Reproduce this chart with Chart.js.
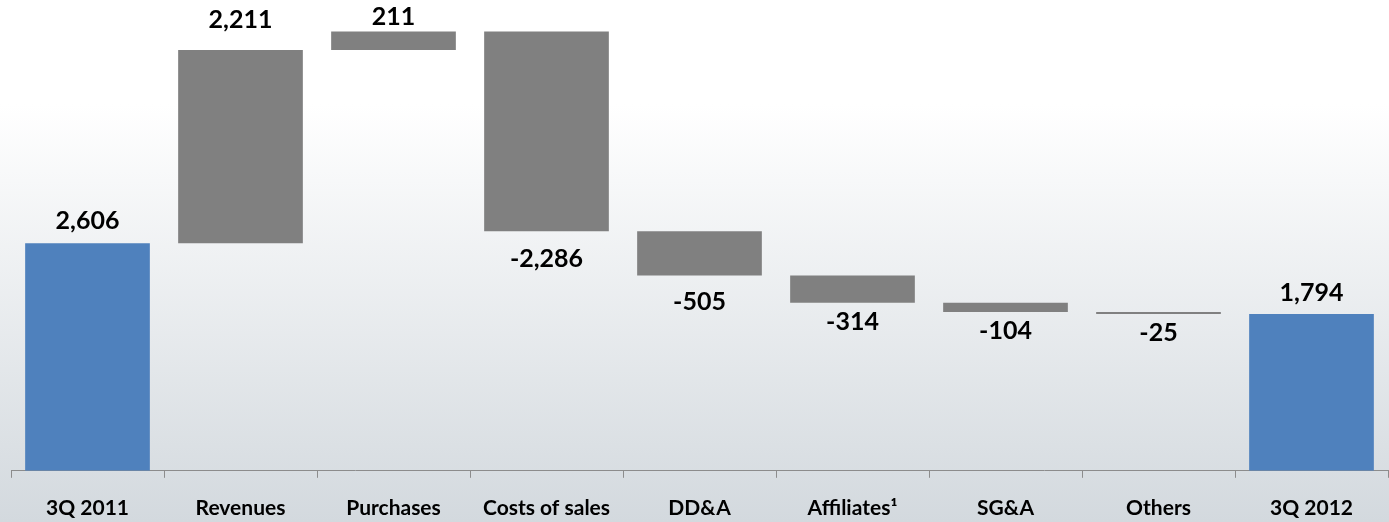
<!DOCTYPE html>
<html>
<head>
<meta charset="utf-8">
<script src="https://cdn.jsdelivr.net/npm/chart.js@4.4.0/dist/chart.umd.min.js"></script>
<style>
  html, body { margin: 0; padding: 0; background: #fff; }
  #wrap { width: 1389px; height: 522px; position: relative; }
</style>
</head>
<body>
<div id="wrap"><canvas id="c" width="1389" height="522"></canvas></div>
<script>
// ---- data ----
const categories = ["3Q 2011", "Revenues", "Purchases", "Costs of sales", "DD&A", "Affiliates\u00B9", "SG&A", "Others", "3Q 2012"];
const startValue = 2606;
const changes = [2211, 211, -2286, -505, -314, -104, -25];
const endValue = 1794;
const valueLabels = ["2,606", "2,211", "211", "-2,286", "-505", "-314", "-104", "-25", "1,794"];

// ---- style ----
const labelOffsets = [22, 30, 15, 28, 27, 19, 19, 19, 21];
const totalColor = "#4f81bd";
const stepColor = "#808080";

// floating ranges built from the data
const ranges = [];
const colors = [];
ranges.push([0, startValue]); colors.push(totalColor);
let run = startValue;
changes.forEach(d => { ranges.push([run, run + d]); run += d; colors.push(stepColor); });
ranges.push([0, endValue]); colors.push(totalColor);

const bgPlugin = {
  id: 'bg',
  beforeDraw(chart) {
    const { ctx, width, height } = chart;
    const g = ctx.createLinearGradient(0, 0, 0, height);
    g.addColorStop(0, '#ffffff');
    g.addColorStop(0.2, '#ffffff');
    g.addColorStop(1, '#d3d9de');
    ctx.save();
    ctx.fillStyle = g;
    ctx.fillRect(0, 0, width, height);
    ctx.restore();
  }
};

const labelPlugin = {
  id: 'vlabels',
  afterDatasetsDraw(chart) {
    const { ctx } = chart;
    const meta = chart.getDatasetMeta(0);
    ctx.save();
    ctx.font = 'bold 25px Lato';
    ctx.fillStyle = '#000';
    ctx.textAlign = 'center';
    ctx.textBaseline = 'middle';
    meta.data.forEach((bar, i) => {
      const r = ranges[i];
      const up = r[1] >= r[0];
      const yTop = Math.min(bar.y, bar.base);
      const yBot = Math.max(bar.y, bar.base);
      const y = up ? yTop - labelOffsets[i] : yBot + labelOffsets[i];
      ctx.fillText(valueLabels[i], bar.x, y);
    });
    ctx.restore();
  }
};

new Chart(document.getElementById('c'), {
  type: 'bar',
  data: {
    labels: categories,
    datasets: [{
      data: ranges,
      backgroundColor: colors,
      borderWidth: 0,
      borderSkipped: false,
      categoryPercentage: 1,
      barPercentage: 0.815
    }]
  },
  options: {
    responsive: false,
    animation: false,
    layout: { padding: { left: 11, right: 1, top: 0, bottom: -17 } },
    plugins: { legend: { display: false }, tooltip: { enabled: false } },
    scales: {
      y: { display: false, min: 0, max: 5390 },
      x: {
        grid: { display: true, drawOnChartArea: false, drawTicks: true, tickLength: 7, color: '#8c8c8c', offset: true },
        border: { display: true, color: '#8c8c8c', width: 1 },
        ticks: { color: '#000', padding: 18, font: { family: 'Lato', size: 21, weight: 'bold', lineHeight: 1.2 }, maxRotation: 0, autoSkip: false }
      }
    }
  },
  plugins: [bgPlugin, labelPlugin]
});
</script>
</body>
</html>
